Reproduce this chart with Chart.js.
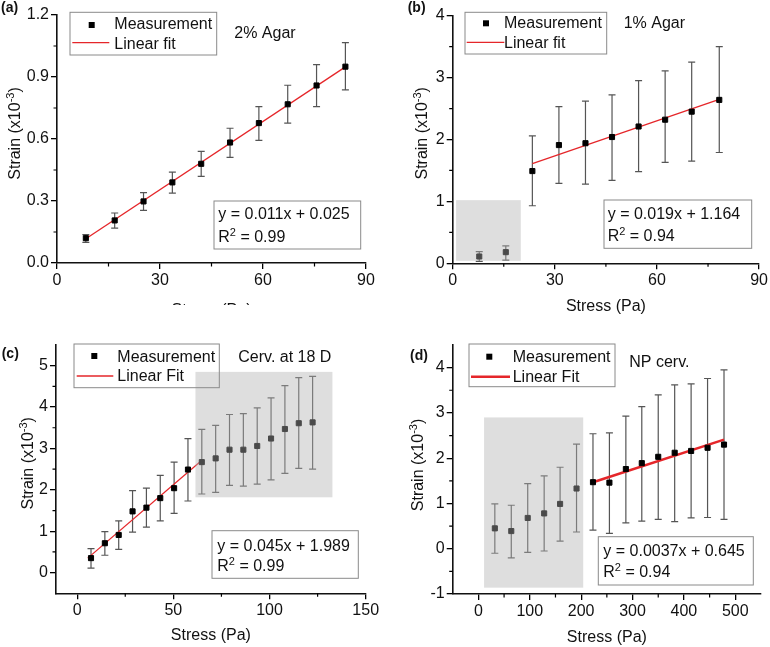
<!DOCTYPE html>
<html>
<head>
<meta charset="utf-8">
<script src="https://cdn.jsdelivr.net/npm/chart.js@4.4.0/dist/chart.umd.min.js"></script>
<style>
  html, body { margin: 0; padding: 0; background: #fff; }
  #wrap { position: relative; width: 770px; height: 647px; overflow: hidden; }
  .panel { position: absolute; overflow: hidden; }
  canvas { display: block; }
</style>
</head>
<body>
<div id="wrap">
  <div class="panel" style="left:0;top:0;width:385px;height:305px"><canvas id="ca"></canvas></div>
  <div class="panel" style="left:385px;top:0;width:385px;height:320px"><canvas id="cb"></canvas></div>
  <div class="panel" style="left:0;top:320px;width:385px;height:327px"><canvas id="cc"></canvas></div>
  <div class="panel" style="left:385px;top:320px;width:385px;height:327px"><canvas id="cd"></canvas></div>
</div>
<script>
// (a) 2% Agar
const A_STRESS = [8.4, 16.8, 25.2, 33.6, 42, 50.4, 58.8, 67.2, 75.6, 84];
const A_STRAIN = [0.12, 0.206, 0.298, 0.39, 0.48, 0.583, 0.677, 0.768, 0.859, 0.95];
const A_LO = [0.10, 0.169, 0.255, 0.338, 0.419, 0.511, 0.593, 0.677, 0.757, 0.838];
const A_HI = [0.137, 0.242, 0.341, 0.44, 0.54, 0.652, 0.757, 0.86, 0.96, 1.066];
const A_FIT_X = [8.4, 84];
const A_FIT_Y = [0.117, 0.949];
const A_XTICKS = [0, 30, 60, 90], A_XMINOR = [15, 45, 75];
const A_YTICKS = [0, 0.3, 0.6, 0.9, 1.2], A_YMINOR = [0.15, 0.45, 0.75, 1.05];

// (b) 1% Agar
const B_STRESS = [7.8, 15.6, 23.4, 31.2, 39, 46.8, 54.6, 62.4, 70.2, 78.3];
const B_STRAIN = [0.11, 0.18, 1.49, 1.91, 1.94, 2.04, 2.21, 2.32, 2.45, 2.64];
const B_LO = [0.03, 0.05, 0.93, 1.29, 1.28, 1.34, 1.48, 1.63, 1.65, 1.79];
const B_HI = [0.19, 0.28, 2.06, 2.53, 2.62, 2.72, 2.95, 3.11, 3.25, 3.50];
const B_FIT_X = [23.4, 78.3];
const B_FIT_Y = [1.61, 2.65];
const B_SHADE = { x: [1, 20], y: [0.04, 1.02] };
const B_XTICKS = [0, 30, 60, 90], B_XMINOR = [15, 45, 75];
const B_YTICKS = [0, 1, 2, 3, 4], B_YMINOR = [0.5, 1.5, 2.5, 3.5];

// (c) Cerv. at 18 D
const C_STRESS = [7.2, 14.4, 21.6, 28.8, 36, 43.2, 50.4, 57.6, 64.8, 72, 79.2, 86.4, 93.6, 100.8, 108, 115.2, 122.4];
const C_STRAIN = [0.35, 0.71, 0.91, 1.48, 1.57, 1.80, 2.04, 2.49, 2.67, 2.76, 2.97, 2.97, 3.06, 3.24, 3.47, 3.61, 3.63];
const C_LO = [0.11, 0.42, 0.56, 0.98, 1.10, 1.25, 1.43, 1.73, 1.90, 1.94, 2.11, 2.09, 2.14, 2.24, 2.40, 2.52, 2.50];
const C_HI = [0.58, 0.99, 1.25, 1.98, 2.04, 2.35, 2.67, 3.24, 3.46, 3.56, 3.82, 3.84, 3.98, 4.22, 4.52, 4.71, 4.74];
const C_FIT_X = [5.5, 65];
const C_FIT_Y = [0.35, 2.72];
const C_SHADE = { x: [61.5, 132.7], y: [1.82, 4.85] };
const C_XTICKS = [0, 50, 100, 150], C_XMINOR = [25, 75, 125];
const C_YTICKS = [0, 1, 2, 3, 4, 5], C_YMINOR = [0.5, 1.5, 2.5, 3.5, 4.5];

// (d) NP cerv.
const D_STRESS = [32, 64, 96, 128, 159, 191, 223, 255, 287, 318, 350, 382, 414, 446, 478];
const D_STRAIN = [0.45, 0.39, 0.68, 0.78, 0.99, 1.33, 1.47, 1.46, 1.76, 1.89, 2.03, 2.12, 2.16, 2.23, 2.30];
const D_LO = [-0.10, -0.20, -0.08, -0.05, 0.17, 0.37, 0.41, 0.34, 0.57, 0.61, 0.65, 0.60, 0.68, 0.69, 0.65];
const D_HI = [0.99, 0.96, 1.44, 1.61, 1.80, 2.31, 2.54, 2.56, 2.93, 3.14, 3.40, 3.62, 3.64, 3.76, 3.95];
const D_FIT_X = [223, 478];
const D_FIT_Y = [1.47, 2.41];
const D_SHADE = { x: [11, 204], y: [-0.86, 2.90] };
const D_XTICKS = [0, 100, 200, 300, 400, 500], D_XMINOR = [50, 150, 250, 350, 450];
const D_YTICKS = [-1, 0, 1, 2, 3, 4], D_YMINOR = [-0.5, 0.5, 1.5, 2.5, 3.5];

const FONT = "'Liberation Sans', Arial, sans-serif";
const RED = '#e5262a';
const BAR = '#555';

const panels = [
  {
    id: 'ca', w: 385, h: 320,
    area: { left: 57, top: 15, right: 366, bottom: 263 },
    x: { range: [0, 90], ticks: A_XTICKS, minor: A_XMINOR, fmt: v => String(v) },
    y: { range: [0, 1.2], ticks: A_YTICKS, minor: A_YMINOR, fmt: v => v.toFixed(1) },
    xs: A_STRESS, ys: A_STRAIN, lo: A_LO, hi: A_HI,
    fitX: A_FIT_X, fitY: A_FIT_Y, fitWidth: 1.3, shade: null,
    tag: ['(a)', 1, 12], ytitle: [19.5, 133.5], xtitlePad: 0,
    legend: { box: [70, 12.3, 216.7, 55], marker: [91.7, 25], t1: [114.3, 29.3], line: [72.3, 109.3, 42.7], t2: [114.3, 49], fit: 'Linear fit' },
    note: ['2% Agar', 234.3, 38],
    eq: { box: [214, 201, 360.7, 249], x: 218.3, y1: 219.3, y2: 241.7, l1: 'y = 0.011x + 0.025', r2: ' = 0.99' }
  },
  {
    id: 'cb', w: 385, h: 320,
    area: { left: 67.7, top: 15.7, right: 376, bottom: 263.3 },
    x: { range: [0, 90], ticks: B_XTICKS, minor: B_XMINOR, fmt: v => String(v) },
    y: { range: [0, 4], ticks: B_YTICKS, minor: B_YMINOR, fmt: v => String(v) },
    xs: B_STRESS, ys: B_STRAIN, lo: B_LO, hi: B_HI,
    fitX: B_FIT_X, fitY: B_FIT_Y, fitWidth: 1.3, shade: B_SHADE,
    tag: ['(b)', 22.7, 11.7], ytitle: [42.3, 133.3], xtitlePad: 4,
    legend: { box: [80, 12.3, 221.7, 54], marker: [101, 23.3], t1: [119, 28.3], line: [81.7, 119.3, 42.3], t2: [119, 48.3], fit: 'Linear fit' },
    note: ['1% Agar', 238.7, 28.3],
    eq: { box: [219, 200, 366.7, 248.3], x: 222.7, y1: 219, y2: 240.7, l1: 'y = 0.019x + 1.164', r2: ' = 0.94' }
  },
  {
    id: 'cc', w: 385, h: 327,
    area: { left: 56, top: 25, right: 365.7, bottom: 273.3 },
    x: { range: [-11, 150], ticks: C_XTICKS, minor: C_XMINOR, fmt: v => String(v) },
    y: { range: [-0.5, 5.5], ticks: C_YTICKS, minor: C_YMINOR, fmt: v => String(v) },
    xs: C_STRESS, ys: C_STRAIN, lo: C_LO, hi: C_HI,
    fitX: C_FIT_X, fitY: C_FIT_Y, fitWidth: 1.3, shade: C_SHADE,
    tag: ['(c)', 1.7, 38.3], ytitle: [32.7, 143.3], xtitlePad: 1.5,
    legend: { box: [74, 24, 219.3, 67.7], marker: [94.3, 36], t1: [117.3, 41.7], line: [76.7, 113.3, 56], t2: [117.3, 61], fit: 'Linear Fit' },
    note: ['Cerv. at 18 D', 238.3, 41.7],
    eq: { box: [212, 210.7, 358.3, 258.3], x: 217.3, y1: 230.7, y2: 250.7, l1: 'y = 0.045x + 1.989', r2: ' = 0.99' }
  },
  {
    id: 'cd', w: 385, h: 327,
    area: { left: 67.7, top: 25, right: 376, bottom: 274 },
    x: { range: [-50, 550], ticks: D_XTICKS, minor: D_XMINOR, fmt: v => String(v) },
    y: { range: [-1, 4.5], ticks: D_YTICKS, minor: D_YMINOR, fmt: v => String(v) },
    xs: D_STRESS, ys: D_STRAIN, lo: D_LO, hi: D_HI,
    fitX: D_FIT_X, fitY: D_FIT_Y, fitWidth: 2.6, shade: D_SHADE,
    tag: ['(d)', 25, 40], ytitle: [37.7, 145], xtitlePad: 0,
    legend: { box: [84, 24, 230, 66.7], marker: [104.3, 36.7], t1: [127.7, 41.7], line: [86, 125, 56.7], t2: [127.7, 61.7], fit: 'Linear Fit', lineWidth: 2.6 },
    note: ['NP cerv.', 244.3, 46.7],
    eq: { box: [213.3, 216.7, 368.3, 265], x: 218.3, y1: 236, y2: 257.3, l1: 'y = 0.0037x + 0.645', r2: ' = 0.94' }
  }
];

function axisCfg(ax, title, size, isX, titlePad) {
  return {
    type: 'linear', min: ax.range[0], max: ax.range[1],
    afterBuildTicks: s => { s.ticks = ax.ticks.map(v => ({ value: v })); },
    afterFit: s => { if (isX) s.height = size; else s.width = size; },
    grid: { display: true, drawOnChartArea: false, drawTicks: true, tickLength: 6, color: '#000', lineWidth: 1.3 },
    border: { display: true, color: '#111', width: 1.6 },
    ticks: { color: '#111', font: { family: FONT, size: 16 }, padding: 2, autoSkip: false, maxRotation: 0, callback: v => ax.fmt(v) },
    title: { display: !!title, text: title, color: '#111', font: { family: FONT, size: 16 }, padding: { top: 0, bottom: titlePad } }
  };
}

// draw text pieces with a superscript part
function richText(ctx, parts, x, y) {
  let cx = x;
  parts.forEach(p => {
    ctx.font = (p.sup ? 11 : 16) + 'px ' + FONT;
    ctx.fillText(p.t, cx, p.sup ? y - 6 : y);
    cx += ctx.measureText(p.t).width;
  });
}

function makePanel(p) {
  const el = document.getElementById(p.id);
  el.width = p.w;
  el.height = p.h;

  const deco = {
    id: 'deco',
    beforeDatasetsDraw(chart) {
      const ctx = chart.ctx, xs = chart.scales.x, ys = chart.scales.y;
      ctx.save();
      ctx.strokeStyle = BAR;
      ctx.lineWidth = 1.2;
      p.xs.forEach((x, i) => {
        const px = xs.getPixelForValue(x);
        const top = ys.getPixelForValue(p.hi[i]);
        const bot = ys.getPixelForValue(p.lo[i]);
        ctx.beginPath();
        ctx.moveTo(px, top); ctx.lineTo(px, bot);
        ctx.moveTo(px - 3.5, top); ctx.lineTo(px + 3.5, top);
        ctx.moveTo(px - 3.5, bot); ctx.lineTo(px + 3.5, bot);
        ctx.stroke();
      });
      ctx.restore();
    },
    afterDatasetsDraw(chart) {
      const ctx = chart.ctx, xs = chart.scales.x, ys = chart.scales.y;
      const a = chart.chartArea;
      ctx.save();
      // shaded region laid over the excluded points
      if (p.shade) {
        const x0 = xs.getPixelForValue(p.shade.x[0]), x1 = xs.getPixelForValue(p.shade.x[1]);
        const y0 = ys.getPixelForValue(p.shade.y[1]), y1 = ys.getPixelForValue(p.shade.y[0]);
        ctx.fillStyle = 'rgba(176,176,176,0.42)';
        ctx.fillRect(x0, y0, x1 - x0, y1 - y0);
      }
      // minor ticks
      ctx.strokeStyle = '#000';
      ctx.lineWidth = 1.2;
      ctx.beginPath();
      p.x.minor.forEach(v => {
        const px = xs.getPixelForValue(v);
        ctx.moveTo(px, a.bottom); ctx.lineTo(px, a.bottom + 3.5);
      });
      p.y.minor.forEach(v => {
        const py = ys.getPixelForValue(v);
        ctx.moveTo(a.left - 3.5, py); ctx.lineTo(a.left, py);
      });
      ctx.stroke();

      ctx.fillStyle = '#111';
      ctx.textBaseline = 'alphabetic';
      ctx.textAlign = 'left';

      // legend
      const L = p.legend;
      ctx.strokeStyle = '#8a8a8a';
      ctx.lineWidth = 1;
      ctx.strokeRect(L.box[0], L.box[1], L.box[2] - L.box[0], L.box[3] - L.box[1]);
      ctx.fillStyle = '#000';
      ctx.fillRect(L.marker[0] - 3, L.marker[1] - 3, 6, 6);
      ctx.strokeStyle = RED;
      ctx.lineWidth = L.lineWidth || 1.3;
      ctx.beginPath();
      ctx.moveTo(L.line[0], L.line[2]); ctx.lineTo(L.line[1], L.line[2]);
      ctx.stroke();
      ctx.fillStyle = '#111';
      ctx.font = '16px ' + FONT;
      ctx.fillText('Measurement', L.t1[0], L.t1[1]);
      ctx.fillText(L.fit, L.t2[0], L.t2[1]);
      ctx.fillText(p.note[0], p.note[1], p.note[2]);

      // fit equation box
      const E = p.eq;
      ctx.strokeStyle = '#8a8a8a';
      ctx.lineWidth = 1;
      ctx.strokeRect(E.box[0], E.box[1], E.box[2] - E.box[0], E.box[3] - E.box[1]);
      ctx.fillText(E.l1, E.x, E.y1);
      richText(ctx, [{ t: 'R' }, { t: '2', sup: true }, { t: E.r2 }], E.x, E.y2);

      // panel tag
      ctx.font = 'bold 14px ' + FONT;
      ctx.fillText(p.tag[0], p.tag[1], p.tag[2]);

      // y axis title, rotated, with superscript exponent
      ctx.translate(p.ytitle[0], p.ytitle[1]);
      ctx.rotate(-Math.PI / 2);
      const parts = [{ t: 'Strain (x10' }, { t: '-3', sup: true }, { t: ')' }];
      let total = 0;
      parts.forEach(q => { ctx.font = (q.sup ? 11 : 16) + 'px ' + FONT; total += ctx.measureText(q.t).width; });
      richText(ctx, parts, -total / 2, 0);
      ctx.restore();
    }
  };

  new Chart(el, {
    type: 'scatter',
    data: {
      datasets: [
        {
          label: 'Measurement',
          data: p.xs.map((x, i) => ({ x: x, y: p.ys[i] })),
          pointStyle: 'rect', pointRadius: 3.6, pointHoverRadius: 3.6,
          backgroundColor: '#000', borderColor: '#000', borderWidth: 1
        },
        {
          label: p.legend.fit,
          type: 'line',
          data: p.fitX.map((x, i) => ({ x: x, y: p.fitY[i] })),
          borderColor: RED, borderWidth: p.fitWidth, pointRadius: 0, showLine: true, fill: false
        }
      ]
    },
    options: {
      responsive: false,
      animation: false,
      layout: { padding: { left: 0, top: p.area.top, right: p.w - p.area.right, bottom: 0 } },
      plugins: { legend: { display: false }, tooltip: { enabled: false } },
      scales: {
        x: axisCfg(p.x, 'Stress (Pa)', p.h - p.area.bottom, true, p.xtitlePad),
        y: axisCfg(p.y, '', p.area.left, false, 0)
      }
    },
    plugins: [deco]
  });
}

panels.forEach(makePanel);
</script>
</body>
</html>
